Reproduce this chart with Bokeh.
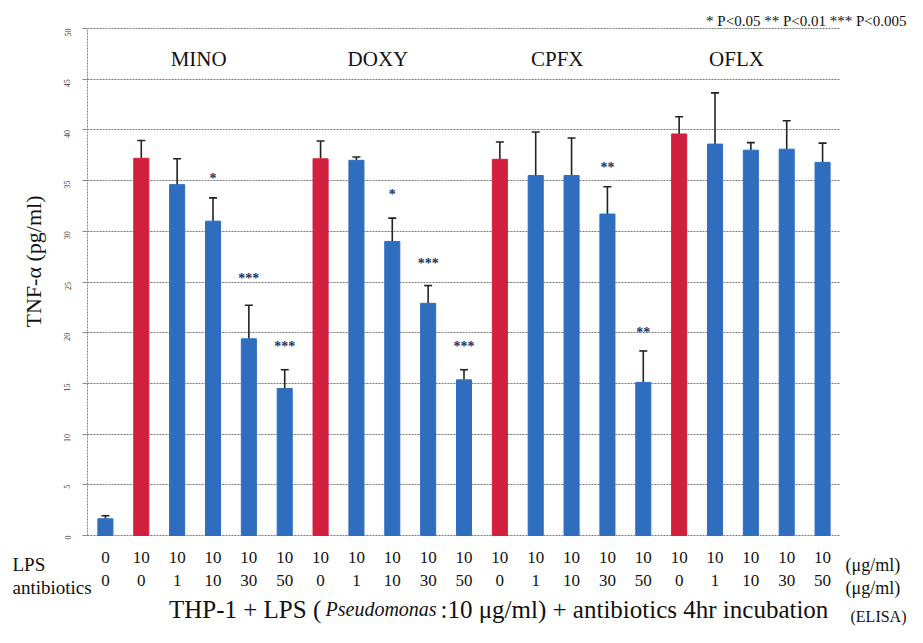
import math
from bokeh.plotting import figure
from bokeh.models import (Range1d, LinearAxis, FixedTicker, Whisker, TeeHead, Label,
                          ColumnDataSource)
from bokeh.core.properties import value
from bokeh.embed import file_html
from bokeh.resources import INLINE

# ---------------- data ----------------
lps = ["0", "10", "10", "10", "10", "10", "10", "10", "10", "10", "10",
       "10", "10", "10", "10", "10", "10", "10", "10", "10", "10"]
antibiotics = ["0", "0", "1", "10", "30", "50", "0", "1", "10", "30", "50",
               "0", "1", "10", "30", "50", "0", "1", "10", "30", "50"]
tnf = [1.65, 37.2, 34.6, 31.0, 19.4, 14.5,
       37.15, 37.0, 29.0, 22.9, 15.35,
       37.1, 35.5, 35.5, 31.7, 15.1,
       39.6, 38.6, 38.0, 38.1, 36.8]
sd = [0.3, 1.75, 2.55, 2.3, 3.3, 1.85,
      1.75, 0.33, 2.3, 1.75, 1.0,
      1.7, 4.3, 3.7, 2.7, 3.1,
      1.7, 5.05, 0.75, 2.8, 1.9]
stars = ["", "", "", "*", "***", "***",
         "", "", "*", "***", "***",
         "", "", "", "**", "**",
         "", "", "", "", ""]
star_y = [0, 0, 0, 35.2, 25.3, 18.6,
          0, 0, 33.6, 26.85, 18.6,
          0, 0, 0, 36.3, 20.05,
          0, 0, 0, 0, 0]
groups = ["MINO", "DOXY", "CPFX", "OFLX"]
group_first = [1, 6, 11, 16]
group_size = 5
y_ticks = [0, 5, 10, 15, 20, 25, 30, 35, 40, 45, 50]
y_max = 50

RED = "#D31F3E"
BLUE = "#2F6EBE"
SERIF = "Liberation Serif"

# ---------------- geometry (pixels) ----------------
W, H = 907, 627
PX_L, PX_R, PY_TOP, PY_0 = 87.0, 840.0, 28.0, 535.0

n = len(tnf)
ux = (PX_R - PX_L) / n
uy = (PY_0 - PY_TOP) / y_max

def dx(px):
    return (px - PX_L) / ux

def dy(py):
    return (PY_0 - py) / uy

xs = [i + 0.5 for i in range(n)]
colors = [RED if (a == "0" and l != "0") else BLUE for a, l in zip(antibiotics, lps)]

src = ColumnDataSource(dict(x=xs, top=tnf, upper=[t + s for t, s in zip(tnf, sd)],
                            color=colors))

p = figure(width=W, height=H, x_range=Range1d(dx(0), dx(W)),
           y_range=Range1d(dy(H), dy(0)),
           output_backend="svg", toolbar_location=None, x_axis_location=None,
           min_border=0, min_border_left=0, min_border_right=0,
           min_border_top=0, min_border_bottom=0)
p.outline_line_color = None
p.background_fill_color = "white"
p.border_fill_color = "white"

# grid
p.xgrid.grid_line_color = None
yg = p.ygrid[0]
yg.ticker = FixedTicker(ticks=y_ticks)
yg.grid_line_color = "#7a7a7a"
yg.grid_line_dash = "2 1"
yg.grid_line_width = 1.2
if "cross_bounds" in yg.properties():
    yg.cross_bounds = (0, n)
else:
    yg.grid_line_color = None
    p.segment(x0=[0] * len(y_ticks), x1=[n] * len(y_ticks), y0=y_ticks, y1=y_ticks,
              line_color="#7a7a7a", line_dash="2 1", line_width=1.2)

# y axis, fixed at x = 0
ya = p.yaxis[0]
ya.fixed_location = 0
ya.bounds = (0, y_max)
ya.ticker = FixedTicker(ticks=y_ticks)
ya.axis_line_color = "#8a8a8a"
ya.axis_line_dash = "2 1"
ya.major_tick_line_color = "#8a8a8a"
ya.major_tick_out = 5
ya.major_tick_in = 0
ya.minor_tick_line_color = None
ya.major_label_orientation = math.pi / 2
ya.major_label_text_font = SERIF
ya.major_label_text_font_size = "8px"
ya.major_label_text_color = "#333333"
ya.major_label_standoff = 15

# bars
p.vbar(x="x", top="top", width=0.42, color="color", source=src)
p.add_layout(Whisker(base="x", upper="upper", lower="top", source=src,
                     line_color="#222222", line_width=1.6,
                     upper_head=TeeHead(size=8, line_color="#222222", line_width=1.6),
                     lower_head=None))

# significance stars
sx = [x for x, s in zip(xs, stars) if s]
sy = [y for y, s in zip(star_y, stars) if s]
st = [s for s in stars if s]
p.text(x=sx, y=sy, text=st, text_align="center", text_baseline="middle",
       text_font=value(SERIF), text_font_size="14px", text_font_style="bold",
       text_color="#1c3566")

# group names
gx = [g + group_size / 2 - 0.4 for g in group_first]
p.text(x=gx, y=[dy(58)] * len(groups), text=groups, text_align="center",
       text_baseline="middle", text_font=value(SERIF), text_font_size="21px",
       text_color="#111111")

# bottom label rows: LPS and antibiotics (axes fixed at y = 0)
ax1 = LinearAxis(ticker=FixedTicker(ticks=xs), fixed_location=0, bounds=(0, n),
                 major_label_overrides={x: l for x, l in zip(xs, lps)})
ax2 = LinearAxis(ticker=FixedTicker(ticks=xs), fixed_location=0, bounds=(0, n),
                 major_label_overrides={x: a for x, a in zip(xs, antibiotics)})
for ax, so in ((ax1, 16), (ax2, 39)):
    ax.axis_line_color = None
    ax.major_tick_line_color = None
    ax.minor_tick_line_color = None
    ax.major_tick_out = 0
    ax.major_tick_in = 0
    ax.major_label_text_font = SERIF
    ax.major_label_text_font_size = "17px"
    ax.major_label_text_color = "#111111"
    ax.major_label_standoff = so
p.add_layout(ax1, "below")
p.add_layout(ax2, "below")

def lab(text, px, py, size, align="left", style="normal", angle=0.0, baseline="alphabetic"):
    p.add_layout(Label(x=dx(px), y=dy(py), text=text, text_font=SERIF,
                       text_font_size=size, text_align=align, text_font_style=style,
                       text_baseline=baseline, angle=angle, text_color="#111111"))

lab("LPS", 12, 564, "19px")
lab("antibiotics", 12, 587, "19px")
lab("(\u03bcg/ml)", 845, 564, "18px")
lab("(\u03bcg/ml)", 845, 587, "18px")
lab("THP-1  + LPS (", 327, 609, "25px", align="right")
lab("Pseudomonas", 325, 608, "20px", style="italic")
lab(":10 \u03bcg/ml) + antibiotics  4hr incubation", 440, 609, "25px")
lab("(ELISA)", 906, 616, "16px", align="right")
lab("* P<0.05 ** P<0.01 *** P<0.005", 906, 20, "15px", align="right")
lab("TNF-\u03b1 (pg/ml)", 33, 261, "22px", align="center", angle=math.pi / 2,
    baseline="middle")

open("out.html", "w").write(file_html(p, INLINE))
